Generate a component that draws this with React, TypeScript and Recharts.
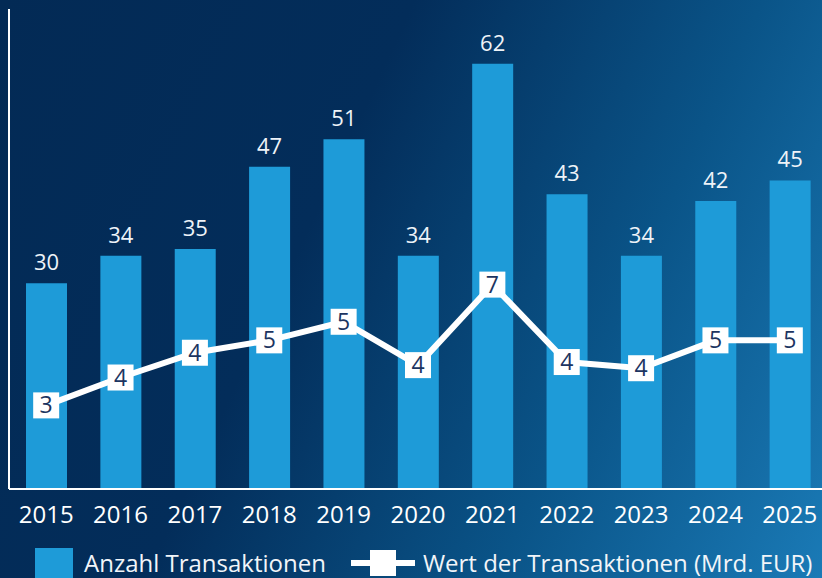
import { Bar, ComposedChart, LabelList, Line, XAxis, YAxis } from "recharts";

const years = ["2015", "2016", "2017", "2018", "2019", "2020", "2021", "2022", "2023", "2024", "2025"];
const anzahl = [30, 34, 35, 47, 51, 34, 62, 43, 34, 42, 45];
const wert = [2.7, 3.6, 4.4, 4.8, 5.4, 4.0, 6.6, 4.1, 3.9, 4.8, 4.8];

const FONT = "'Open Sans', 'Noto Sans', sans-serif";
const BAR = "#1e9bd8";
const NAVY = "#1c3561";

const data = years.map((y, i) => ({ year: y, anzahl: anzahl[i], wert: wert[i] }));

function Marker(props: any) {
  const { cx, cy, value } = props;
  if (cx == null || cy == null) return null;
  return (
    <g>
      <rect x={cx - 13} y={cy - 13} width={26} height={26} fill="#fff" />
      <text
        x={cx}
        y={cy + 8}
        textAnchor="middle"
        fontSize={23}
        fontFamily={FONT}
        fill={NAVY}
      >
        {Math.round(value)}
      </text>
    </g>
  );
}

export default function App() {
  return (
    <div
      style={{
        position: "absolute",
        left: 0,
        top: 0,
        width: 822,
        height: 578,
        overflow: "hidden",
        background:
          "linear-gradient(115deg, #032a55 0%, #032d5a 38%, #0a5488 70%, #1a7ab6 100%)",
        fontFamily: FONT,
      }}
    >
      <ComposedChart
        width={830}
        height={540}
        data={data}
        margin={{ top: 9, right: 3, left: 7, bottom: 0 }}
        barSize={41}
      >
        <XAxis
          dataKey="year"
          axisLine={{ stroke: "#fff", strokeWidth: 2 }}
          tickLine={false}
          tickSize={0}
          tickMargin={17}
          height={51}
          interval={0}
          tick={{ fill: "#fff", fontSize: 24, fontFamily: FONT }}
        />
        <YAxis
          yAxisId="left"
          domain={[0, 70]}
          width={2}
          tick={false}
          tickLine={false}
          axisLine={{ stroke: "#fff", strokeWidth: 2 }}
        />
        <YAxis yAxisId="right" orientation="right" domain={[0, 15.5]} width={0} hide />
        <Bar yAxisId="left" dataKey="anzahl" fill={BAR} isAnimationActive={false}>
          <LabelList
            dataKey="anzahl"
            position="top"
            offset={13}
            fill="#eef3f8"
            fontSize={22}
            fontFamily={FONT}
          />
        </Bar>
        <Line
          yAxisId="right"
          type="linear"
          dataKey="wert"
          stroke="#fff"
          strokeWidth={6}
          dot={<Marker />}
          activeDot={false}
          isAnimationActive={false}
        />
      </ComposedChart>
      <div
        style={{
          position: "absolute",
          left: 35,
          top: 546,
          display: "flex",
          alignItems: "center",
          color: "#f2f5f9",
          fontSize: 24,
          whiteSpace: "nowrap",
        }}
      >
        <span style={{ display: "inline-block", width: 38, height: 30, background: BAR }} />
        <span style={{ marginLeft: 11 }}>Anzahl Transaktionen</span>
        <svg width={64} height={30} style={{ marginLeft: 25 }}>
          <line x1={0} y1={15} x2={64} y2={15} stroke="#fff" strokeWidth={6} strokeLinecap="round" />
          <rect x={19} y={2} width={26} height={26} fill="#fff" />
        </svg>
        <span style={{ marginLeft: 8 }}>Wert der Transaktionen (Mrd. EUR)</span>
      </div>
    </div>
  );
}
